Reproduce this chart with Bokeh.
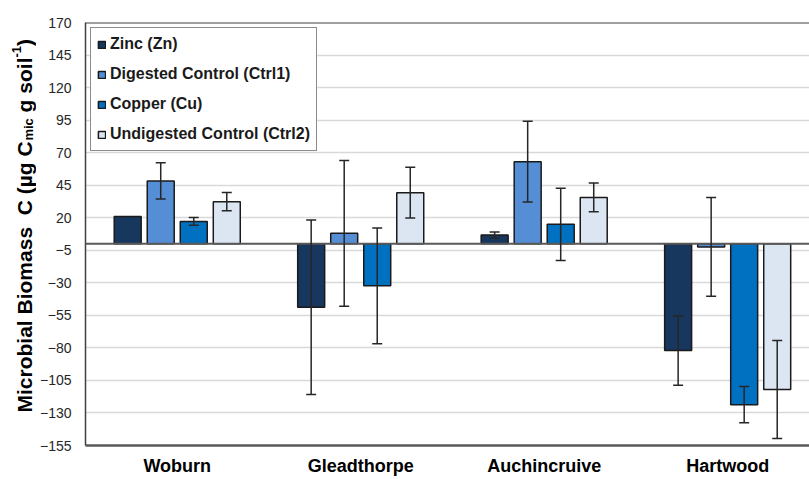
from math import pi

from bokeh.plotting import figure
from bokeh.layouts import row
from bokeh.models import (ColumnDataSource, Range1d, FixedTicker, Whisker,
                          TeeHead, Span)
from bokeh.core.properties import value
from bokeh.embed import file_html
from bokeh.resources import INLINE

# ---- data -------------------------------------------------------------
sites = ["Woburn", "Gleadthorpe", "Auchincruive", "Hartwood"]
series_names = ["Zinc (Zn)", "Digested Control (Ctrl1)", "Copper (Cu)",
                "Undigested Control (Ctrl2)"]

zinc = [21.0, -48.8, 6.7, -82.0]
zinc_err = [0.0, 67.0, 2.3, 26.7]
ctrl1 = [48.3, 8.0, 63.1, -2.4]
ctrl1_err = [14.0, 56.0, 31.0, 38.0]
copper = [17.2, -32.3, 14.9, -123.6]
copper_err = [3.0, 44.5, 27.7, 14.0]
ctrl2 = [32.3, 39.2, 35.6, -112.0]
ctrl2_err = [7.0, 19.5, 11.0, 37.6]

y_ticks = [170, 145, 120, 95, 70, 45, 20, -5, -30, -55, -80, -105, -130, -155]

colors = ["#17375E", "#558ED5", "#0070C0", "#DCE6F2"]

FONT = "Liberation Sans"

# ---- layout -----------------------------------------------------------
W, H = 809, 479
STRIP = 36                 # narrow column holding the rotated y title
LEFT, TOP, BOTTOM = 85, 22, 34
X_END = 3.946
Y_MIN, Y_MAX = -155, 170
frame_h = H - TOP - BOTTOM

p = figure(width=W - STRIP, height=H, x_range=Range1d(0, X_END),
           y_range=Range1d(Y_MIN, Y_MAX), output_backend="svg",
           toolbar_location=None, min_border_left=LEFT - STRIP - 4,
           min_border_right=0, min_border_top=TOP, min_border_bottom=BOTTOM,
           outline_line_color=None, background_fill_color="white",
           border_fill_color="white", border_fill_alpha=0)

p.xgrid.visible = False
p.ygrid.ticker = FixedTicker(ticks=y_ticks)
p.ygrid.grid_line_color = "#D9D9D9"
p.ygrid.grid_line_width = 1.5

for ax in (p.xaxis[0], p.yaxis[0]):
    ax.major_tick_line_color = None
    ax.minor_tick_line_color = None
    ax.major_tick_out = 0
    ax.major_tick_in = 0
    ax.minor_tick_out = 0
    ax.minor_tick_in = 0

# y axis
p.yaxis.ticker = FixedTicker(ticks=y_ticks)
p.yaxis.axis_line_color = "#404040"
p.yaxis.axis_line_width = 1.5
p.yaxis.major_label_standoff = 14
p.yaxis.major_label_text_font = FONT
p.yaxis.major_label_text_font_size = "14px"
p.yaxis.major_label_text_color = "#262626"

# x axis: one tick per site, at the middle of each group
site_pos = [i + 0.5 for i in range(len(sites))]
p.xaxis.ticker = FixedTicker(ticks=site_pos)
p.xaxis.major_label_overrides = {pos: name for pos, name in zip(site_pos, sites)}
p.xaxis.axis_line_color = "#595959"
p.xaxis.axis_line_width = 2.5
p.xaxis.major_label_standoff = 10
p.xaxis.major_label_text_font = FONT
p.xaxis.major_label_text_font_style = "bold"
p.xaxis.major_label_text_font_size = "18px"
p.xaxis.major_label_text_color = "#000000"

# ---- bars + error bars -------------------------------------------------
offsets = [-0.27, -0.09, 0.09, 0.27]
bar_w = 0.147
series = [(zinc, zinc_err), (ctrl1, ctrl1_err), (copper, copper_err),
          (ctrl2, ctrl2_err)]

for (vals, errs), off, col, name in zip(series, offsets, colors, series_names):
    xs = [c + off for c in site_pos]
    src = ColumnDataSource(dict(x=xs, top=vals))
    p.vbar(x="x", top="top", bottom=0, width=bar_w, source=src,
           fill_color=col, line_color="#1A1A1A", line_width=1.5,
           legend_label=name)

    ex = [x for x, e in zip(xs, errs) if e > 0]
    ev = [v for v, e in zip(vals, errs) if e > 0]
    ee = [e for e in errs if e > 0]
    esrc = ColumnDataSource(dict(x=ex,
                                 upper=[v + e for v, e in zip(ev, ee)],
                                 lower=[v - e for v, e in zip(ev, ee)]))
    p.add_layout(Whisker(source=esrc, base="x", upper="upper", lower="lower",
                         level="overlay", line_color="#262626", line_width=1.5,
                         upper_head=TeeHead(size=10, line_color="#262626",
                                            line_width=1.5),
                         lower_head=TeeHead(size=10, line_color="#262626",
                                            line_width=1.5)))

# zero line and top border of the plot area
p.add_layout(Span(location=0, dimension="width", line_color="#595959",
                  line_width=2))
p.add_layout(Span(location=Y_MAX, dimension="width", line_color="#404040",
                  line_width=2))

# ---- legend ------------------------------------------------------------
lg = p.legend[0]
lg.location = "top_left"
lg.margin = 5
lg.padding = 6
lg.spacing = 10
lg.glyph_width = 9
lg.glyph_height = 9
lg.label_height = 20
lg.label_standoff = 4
lg.label_text_font = FONT
lg.label_text_font_style = "bold"
lg.label_text_font_size = "16px"
lg.label_text_color = "#1A1A1A"
lg.border_line_color = "#1A1A1A"
lg.border_line_width = 1.5
lg.background_fill_color = "white"
lg.background_fill_alpha = 1.0

# ---- y axis title (with subscript / superscript) in its own strip ---------
# The strip shares the main y range, so its frame lines up with the plot's.
# Liberation Sans Bold advance widths (per 1000 em)
adv = {'M': 833, 'i': 278, 'c': 556, 'r': 389, 'o': 611, 'b': 611, 'a': 556,
       'l': 278, ' ': 278, 'B': 722, 'm': 889, 's': 556, 'C': 722, '(': 333,
       'µ': 611, 'g': 611, ')': 333, '-': 333, '1': 556}
px_per_unit = frame_h / (Y_MAX - Y_MIN)


def text_len(s, size):
    return sum(adv.get(ch, 556) for ch in s) * size / 1000.0


def py_to_y(py):
    return Y_MAX - (py - TOP) / px_per_unit


# (text, font size, baseline shift, blank space before it in em)
title_parts = [("Microbial Biomass", 21, 0, 0.0),
               ("C (µg C", 21, 0, 0.556),
               ("mic", 13, 4, 0.0),
               ("g soil", 21, 0, 0.278),
               ("-1", 13, -8, 0.0),
               (")", 21, 0, 0.0)]
baseline_px = 24
cursor = 412
tx, ty, tt, ts = [], [], [], []
for txt, size, shift, gap in title_parts:
    cursor -= gap * 21
    tx.append(baseline_px + shift)
    ty.append(py_to_y(cursor))
    tt.append(txt)
    ts.append(f"{size}px")
    cursor -= text_len(txt, size)

strip = figure(width=STRIP, height=H, x_range=Range1d(0, STRIP),
               y_range=p.y_range, output_backend="svg",
               toolbar_location=None, x_axis_type=None, y_axis_type=None,
               min_border=0, min_border_left=0, min_border_right=0,
               min_border_top=TOP, min_border_bottom=BOTTOM,
               outline_line_color=None,
               background_fill_color="white", border_fill_color="white")
strip.xgrid.visible = False
strip.ygrid.visible = False
strip.text(x="x", y="y", text="text", text_font_size="size",
           source=ColumnDataSource(dict(x=tx, y=ty, text=tt, size=ts)),
           angle=pi / 2, text_align="left", text_baseline="alphabetic",
           text_font=value(FONT), text_font_style="bold",
           text_color="#000000")

layout = row(strip, p, spacing=0)
open("out.html", "w").write(file_html(layout, INLINE))
